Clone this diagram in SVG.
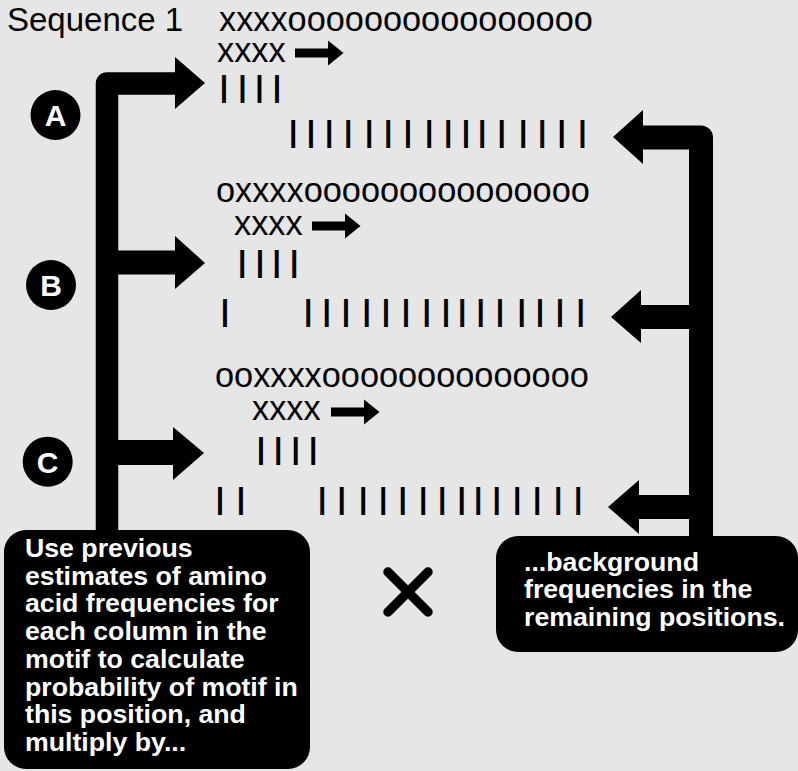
<svg xmlns="http://www.w3.org/2000/svg" width="798" height="771" viewBox="0 0 798 771">
<style>
.seq{font-family:"Liberation Sans",Arial,sans-serif;font-size:34.3px;fill:#000}
.bar{font-family:"Liberation Sans",Arial,sans-serif;font-size:30px;font-weight:bold;fill:#000}
.lbl{font-family:"Liberation Sans",Arial,sans-serif;font-size:30px;font-weight:bold;fill:#fff;text-anchor:middle}
.box{fill:#000}
.bt{font-family:"Liberation Sans",Arial,sans-serif;font-size:26.7px;font-weight:bold;fill:#fff}
.trunk{fill:none;stroke:#000;stroke-linejoin:round}
</style>
<defs>
<g id="smallArrow"><rect x="0" y="-4.5" width="34" height="9"/><polygon points="33,-12.5 48.5,0 33,12.5"/></g>
</defs>
<rect width="798" height="771" fill="#e6e6e6"/>
<g id="title"><text class="seq" x="7" y="31" style="font-size:33px">Sequence 1</text></g>
<g id="rowA">
<text class="seq" x="219" y="31">xxxxoooooooooooooooo</text>
<text class="seq" x="217" y="62">xxxx</text>
<use href="#smallArrow" x="295" y="53"/>
<text class="bar" x="219.8 238.3 255.3 272.8" y="96.8">||||</text>
<text class="bar" x="289.1 306.8 325 344.1 365.1 384.1 403.8 425 444.1 461.7 478 497.5 519.1 538 557.5 578.3" y="142">||||||||||||||||</text>
</g>
<g id="rowB">
<text class="seq" x="216" y="202">oxxxxooooooooooooooo</text>
<text class="seq" x="234" y="235">xxxx</text>
<use href="#smallArrow" x="312" y="226"/>
<text class="bar" x="238.1 255.8 272.5 290.1" y="271.8">||||</text>
<text class="bar" x="220.8 304.1 322.5 341.8 362.5 381.8 401.8 422.5 441.8 458.1 476.5 495.8 517.5 535.8 555.8 576.5" y="320.5">||||||||||||||||</text>
</g>
<g id="rowC">
<text class="seq" x="215" y="387">ooxxxxoooooooooooooo</text>
<text class="seq" x="252" y="420">xxxx</text>
<use href="#smallArrow" x="331" y="412"/>
<text class="bar" x="256.8 274.1 291.5 309.1" y="458.8">||||</text>
<text class="bar" x="215.8 236.8 318.1 337.5 359.1 379.1 398.5 419.1 438.1 457.5 474.1 492.5 513.1 533.1 554.1 574.1" y="508.6">||||||||||||||||</text>
</g>
<g id="connectors">
<path class="trunk" stroke-width="22.5" d="M107,531 V83.5 H177"/>
<path class="trunk" stroke-width="24" d="M107,262.5 H177"/>
<path class="trunk" stroke-width="25" d="M107,452.5 H175"/>
<polygon points="175,57 205,83 175,109"/>
<polygon points="175,236 205,263 175,289"/>
<polygon points="173,427 204,453 173,480"/>
<path class="trunk" stroke-width="24" d="M701,537 V137.5 H641"/>
<path class="trunk" stroke-width="24" d="M701,317 H639"/>
<path class="trunk" stroke-width="24" d="M701,507 H637"/>
<polygon points="643,110 613,137 643,164"/>
<polygon points="641,290 611,317 641,343"/>
<polygon points="639,480 608,507 639,534"/>
</g>
<g id="labelA"><circle cx="55.5" cy="115" r="25"/><text class="lbl" x="55.5" y="125.8">A</text></g>
<g id="labelB"><circle cx="51" cy="285" r="25"/><text class="lbl" x="51" y="295.8">B</text></g>
<g id="labelC"><circle cx="47.7" cy="461.7" r="25"/><text class="lbl" x="47.7" y="472.5">C</text></g>
<g id="leftBox">
<rect class="box" x="4" y="530" width="306" height="239" rx="22"/>
<text class="bt" x="25" y="557">Use previous</text>
<text class="bt" x="25" y="584.7">estimates of amino</text>
<text class="bt" x="25" y="612.4">acid frequencies for</text>
<text class="bt" x="25" y="640.1">each column in the</text>
<text class="bt" x="25" y="667.8">motif to calculate</text>
<text class="bt" x="25" y="695.5">probability of motif in</text>
<text class="bt" x="25" y="723.2">this position, and</text>
<text class="bt" x="25" y="750.9">multiply by...</text>
</g>
<g id="times"><path d="M388,572 L428,612 M428,572 L388,612" stroke="#000" stroke-width="9.5" stroke-linecap="round" fill="none"/></g>
<g id="rightBox">
<rect class="box" x="496" y="536" width="302" height="116" rx="22"/>
<text class="bt" x="524" y="570.5">...background</text>
<text class="bt" x="524" y="598">frequencies in the</text>
<text class="bt" x="524" y="625.5">remaining positions.</text>
</g>
</svg>
